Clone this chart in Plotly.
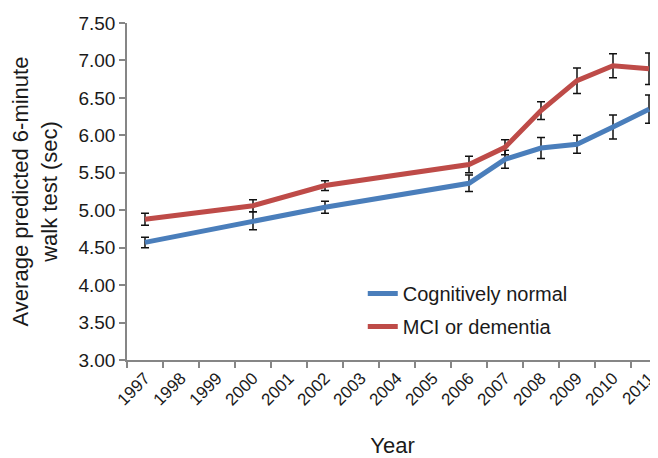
import plotly.graph_objects as go

years = list(range(1997, 2012))
tick_labels = [str(y) for y in years]

x_years = [1997, 2000, 2002, 2006, 2007, 2008, 2009, 2010, 2011]
normal_vals = [4.57, 4.86, 5.04, 5.36, 5.68, 5.83, 5.88, 6.11, 6.35]
normal_err = [0.07, 0.12, 0.08, 0.11, 0.12, 0.14, 0.12, 0.16, 0.19]
mci_vals = [4.88, 5.06, 5.33, 5.61, 5.84, 6.33, 6.73, 6.93, 6.89]
mci_err = [0.08, 0.08, 0.065, 0.11, 0.10, 0.12, 0.17, 0.16, 0.21]

BLUE = "#4A7EBB"
RED = "#BE4B48"
AXIS = "#868686"
TXT = "#1a1a1a"
FONT = "Liberation Sans, Arial, sans-serif"

fig = go.Figure()
fig.add_trace(go.Scatter(
    x=x_years, y=normal_vals, mode="lines", name="Cognitively normal",
    legendgroup="a",
    line=dict(color=BLUE, width=5),
    error_y=dict(type="data", array=normal_err, color="#111111", thickness=1.5, width=4),
))
fig.add_trace(go.Scatter(
    x=x_years, y=mci_vals, mode="lines", name="MCI or dementia",
    legendgroup="b",
    line=dict(color=RED, width=5),
    error_y=dict(type="data", array=mci_err, color="#111111", thickness=1.5, width=4),
))

fig.update_layout(
    width=650, height=450,
    margin=dict(l=119, r=0, t=15, b=98, autoexpand=False),
    paper_bgcolor="white", plot_bgcolor="white",
    font=dict(family=FONT, size=17, color=TXT),
    showlegend=True,
    legend=dict(x=0.444, y=0.255, xanchor="left", yanchor="top",
                bgcolor="rgba(0,0,0,0)", font=dict(size=20, color=TXT),
                traceorder="grouped", tracegroupgap=4, itemwidth=30),
)
fig.update_xaxes(
    automargin=False,
    range=[1996.5, 2011.25],
    tickmode="array", tickvals=years, ticktext=tick_labels, tickangle=-45,
    ticks="", showgrid=False, zeroline=False,
    showline=True, linecolor=AXIS, linewidth=1.5,
    tickfont=dict(size=17, color=TXT),
    minor=dict(tickmode="array", tickvals=[y - 0.5 for y in years],
               ticks="outside", ticklen=6, tickcolor=AXIS, tickwidth=1.5, showgrid=False),
    title=dict(text="Year", font=dict(size=22, color=TXT), standoff=32),
)
fig.update_yaxes(
    automargin=False,
    range=[3, 7.5], dtick=0.5, tick0=3, tickformat=".2f",
    ticks="outside", ticklen=6, tickcolor=AXIS, tickwidth=1.5,
    showgrid=False, zeroline=False,
    showline=True, linecolor=AXIS, linewidth=1.5,
    tickfont=dict(size=19, color=TXT),
    title=dict(text="Average predicted 6-minute<br>walk test (sec)",
               font=dict(size=22, color=TXT), standoff=18),
)

fig.write_html("out.html")
